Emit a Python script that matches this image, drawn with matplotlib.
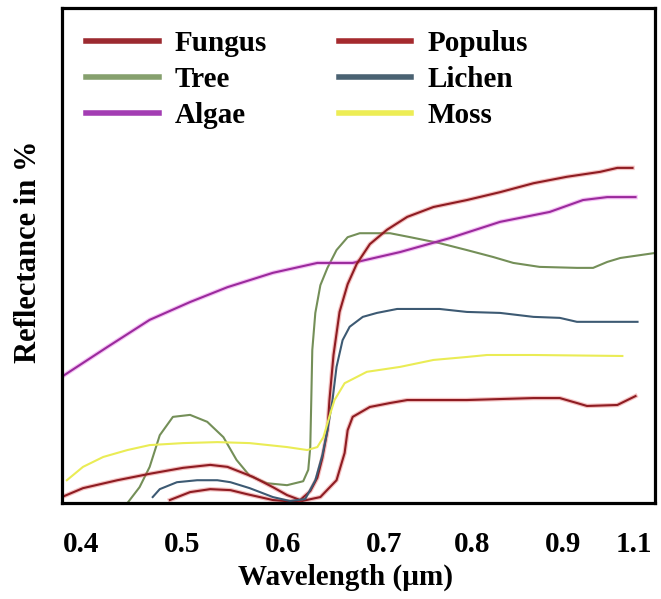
import matplotlib
matplotlib.use("Agg")
import matplotlib.pyplot as plt
import matplotlib.patheffects as pe

# ---- data (wavelength in um, reflectance in %) ----
populus_x = [0.381, 0.402, 0.436, 0.468, 0.501, 0.528, 0.545, 0.570, 0.590, 0.604, 0.617,
             0.627, 0.634, 0.639, 0.644, 0.646, 0.650, 0.656, 0.664, 0.673, 0.686, 0.703,
             0.723, 0.749, 0.782, 0.815, 0.848, 0.881, 0.914, 0.931, 0.946]
populus_y = [1.2, 3.0, 4.6, 5.9, 7.1, 7.7, 7.3, 5.3, 3.2, 1.6, 0.6,
             2.4, 5.1, 9.1, 14.7, 20.8, 29.9, 38.6, 44.2, 48.3, 52.3, 55.2,
             57.8, 59.8, 61.2, 62.8, 64.6, 65.9, 66.9, 67.7, 67.7]

fungus_x = [0.488, 0.508, 0.528, 0.548, 0.564, 0.590, 0.614, 0.637, 0.653, 0.661, 0.664,
            0.669, 0.686, 0.706, 0.723, 0.782, 0.848, 0.874, 0.891, 0.901, 0.931, 0.949]
fungus_y = [0.6, 2.2, 2.8, 2.6, 1.8, 0.6, 0.2, 1.2, 4.6, 10.1, 14.7,
            17.4, 19.4, 20.2, 20.8, 20.8, 21.2, 21.2, 20.2, 19.6, 19.8, 21.6]

tree_x = [0.446, 0.458, 0.468, 0.478, 0.491, 0.508, 0.525, 0.541, 0.554, 0.567, 0.584,
          0.604, 0.620, 0.625, 0.627, 0.628, 0.629, 0.632, 0.637, 0.644, 0.653, 0.664,
          0.676, 0.706, 0.726, 0.755, 0.782, 0.808, 0.828, 0.854, 0.891, 0.907, 0.921,
          0.934, 0.968]
tree_y = [0.0, 3.2, 7.3, 13.7, 17.4, 17.8, 16.4, 13.3, 8.7, 5.5, 4.0,
          3.6, 4.4, 6.7, 11.3, 20.8, 30.9, 38.4, 44.0, 47.5, 51.1, 53.7,
          54.5, 54.5, 53.7, 52.5, 51.1, 49.7, 48.5, 47.7, 47.5, 47.5, 48.7,
          49.5, 50.5]

lichen_x = [0.471, 0.478, 0.495, 0.515, 0.535, 0.548, 0.567, 0.590, 0.607, 0.622, 0.632,
            0.639, 0.644, 0.649, 0.653, 0.659, 0.666, 0.679, 0.693, 0.713, 0.755, 0.782,
            0.815, 0.848, 0.874, 0.891, 0.951]
lichen_y = [1.2, 2.8, 4.2, 4.6, 4.6, 4.2, 3.0, 1.2, 0.4, 0.8, 4.6,
            9.7, 14.7, 20.8, 27.5, 32.9, 35.6, 37.6, 38.4, 39.2, 39.2, 38.6,
            38.4, 37.6, 37.4, 36.6, 36.6]

algae_x = [0.381, 0.426, 0.468, 0.508, 0.545, 0.590, 0.634, 0.669, 0.716, 0.765, 0.815,
           0.864, 0.897, 0.921, 0.949]
algae_y = [25.5, 31.5, 37.0, 40.6, 43.6, 46.5, 48.5, 48.5, 50.7, 53.5, 56.8,
           58.8, 61.2, 61.8, 61.8]

moss_x = [0.386, 0.402, 0.422, 0.446, 0.468, 0.501, 0.535, 0.567, 0.604, 0.624, 0.634,
          0.640, 0.647, 0.651, 0.661, 0.683, 0.716, 0.749, 0.782, 0.802, 0.848, 0.936]
moss_y = [4.6, 7.3, 9.3, 10.7, 11.7, 12.1, 12.3, 12.1, 11.3, 10.7, 11.3,
          13.3, 18.2, 20.8, 24.2, 26.5, 27.5, 28.9, 29.5, 29.9, 29.9, 29.7]

tick_pos = [0.4, 0.5, 0.6, 0.7, 0.787, 0.877, 0.947]
tick_labels = ["0.4", "0.5", "0.6", "0.7", "0.8", "0.9", "1.1"]

FONT = "Liberation Serif"
FS = 21

fig = plt.figure(figsize=(6.61, 5.99), dpi=100)
ax = fig.add_axes([62 / 661, 1 - 503 / 599, 593 / 661, 495 / 599])

series = [
    ("Fungus", fungus_x, fungus_y, "#8e1c22", "#e05050"),
    ("Tree", tree_x, tree_y, "#748f58", None),
    ("Algae", algae_x, algae_y, "#9a2a9c", "#e050e0"),
    ("Populus", populus_x, populus_y, "#8e1c22", "#e05050"),
    ("Lichen", lichen_x, lichen_y, "#3d5a73", None),
    ("Moss", moss_x, moss_y, "#eaec55", None),
]
leg_colors = {"Fungus": "#9c2a30", "Populus": "#a52a2e", "Tree": "#86a06e",
              "Lichen": "#4a6272", "Algae": "#a33db3", "Moss": "#eded55"}

handles = []
for name, xs, ys, col, halo in series:
    kw = {}
    if halo:
        kw["path_effects"] = [pe.Stroke(linewidth=3.2, foreground=halo, alpha=0.35), pe.Normal()]
    ax.plot(xs, ys, color=col, lw=1.5, **kw)
    h, = ax.plot([], [], color=leg_colors[name], lw=4, label=name)
    handles.append(h)

ax.set_xlim(0.3812, 0.9683)
ax.set_ylim(0, 100)
ax.set_yticks([])
ax.set_xticks(tick_pos)
ax.set_xticklabels(tick_labels, fontfamily=FONT, fontweight="bold", fontsize=FS)
ax.tick_params(axis="x", length=0, pad=20)
for s in ax.spines.values():
    s.set_linewidth(2.3)
    s.set_color("black")

leg = ax.legend(handles=handles, ncol=2, loc="upper left", bbox_to_anchor=(0.04, 0.955),
                frameon=False, borderpad=0, borderaxespad=0, handlelength=2.5,
                handletextpad=0.55, columnspacing=2.45, labelspacing=0.3,
                prop={"family": FONT, "weight": "bold", "size": FS})

fig.text(346 / 661, 1 - 577 / 599, "Wavelength (µm)", family=FONT, weight="bold",
         fontsize=FS, ha="center", va="center")
fig.text(29 / 661, 1 - 252 / 599, "Reflectance in %", family=FONT, weight="bold",
         fontsize=22, ha="center", va="center", rotation=90)

fig.savefig("out.png", dpi=100)
